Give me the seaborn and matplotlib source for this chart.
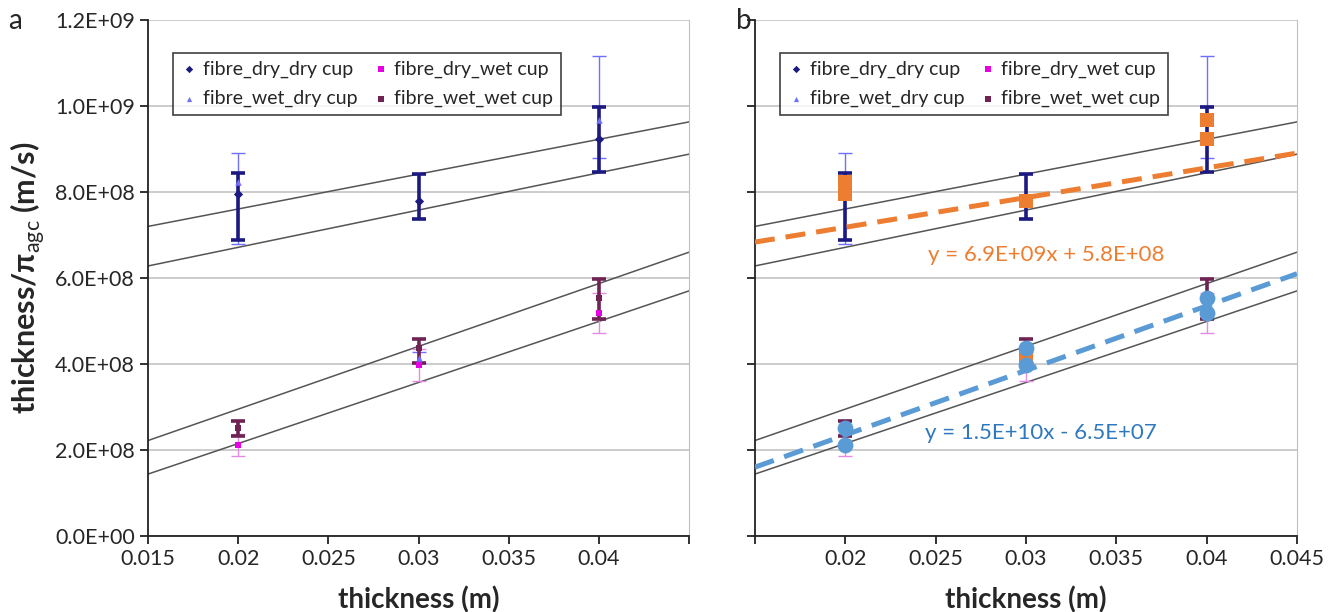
"""Permeance plot: thickness / pi_agc vs sample thickness, panels a and b."""

import matplotlib

matplotlib.use("Agg")

import matplotlib.pyplot as plt  # noqa: E402
import numpy as np  # noqa: E402
import pandas as pd  # noqa: E402
import seaborn as sns  # noqa: E402

# ---- data ----
thickness = [0.02, 0.03, 0.04]

dry_dry = [7.95e8, 7.79e8, 9.23e8]
dry_dry_lo = [6.88e8, 7.37e8, 8.47e8]
dry_dry_hi = [8.44e8, 8.42e8, 9.98e8]

wet_dry = [8.23e8, 4.15e8, 9.67e8]
wet_dry_lo = [6.79e8, 4.02e8, 8.79e8]
wet_dry_hi = [8.90e8, 4.28e8, 1.116e9]

dry_wet = [2.12e8, 3.98e8, 5.19e8]
dry_wet_lo = [1.86e8, 3.60e8, 4.72e8]
dry_wet_hi = [2.38e8, 4.36e8, 5.66e8]

wet_wet = [2.51e8, 4.37e8, 5.53e8]
wet_wet_lo = [2.33e8, 4.02e8, 5.05e8]
wet_wet_hi = [2.67e8, 4.58e8, 5.98e8]

# grey envelope lines (value at x = 0.015 and x = 0.045)
band_x = [0.015, 0.045]
band_lines = {
    "dry_upper": [7.20e8, 9.63e8],
    "dry_lower": [6.28e8, 8.88e8],
    "wet_upper": [2.22e8, 6.60e8],
    "wet_lower": [1.44e8, 5.70e8],
}

# trendlines in panel b (slope, intercept)
dry_fit = (6.9e9, 5.8e8)
wet_fit = (1.5e10, -6.5e7)

y_ticks = [0, 2e8, 4e8, 6e8, 8e8, 1.0e9, 1.2e9]
x_ticks = [0.015, 0.02, 0.025, 0.03, 0.035, 0.04, 0.045]

# ---- style ----
sns.set_style("white")
plt.rcParams["font.family"] = ["Lato", "DejaVu Sans"]
plt.rcParams["mathtext.fontset"] = "custom"
plt.rcParams["mathtext.rm"] = "Lato"

NAVY = "#1c1a80"
LIGHT_BLUE = "#7070ff"
MAGENTA = "#e600e6"
MAGENTA_ERR = "#e58ae5"
MAROON = "#6e2352"
ORANGE = "#ed7d31"
BLUE = "#5b9bd5"

series = [
    ("fibre_dry_dry cup", dry_dry, dry_dry_lo, dry_dry_hi, NAVY, NAVY, "D", 2.6),
    ("fibre_dry_wet cup", dry_wet, dry_wet_lo, dry_wet_hi, MAGENTA, MAGENTA_ERR, "s", 1.0),
    ("fibre_wet_dry cup", wet_dry, wet_dry_lo, wet_dry_hi, LIGHT_BLUE, LIGHT_BLUE, "^", 1.0),
    ("fibre_wet_wet cup", wet_wet, wet_wet_lo, wet_wet_hi, MAROON, MAROON, "s", 2.6),
]

fig = plt.figure(figsize=(13.35, 6.12), dpi=100)
ax_a = fig.add_axes([0.1109, 0.1242, 0.4052, 0.8431])
ax_b = fig.add_axes([0.5655, 0.1242, 0.4060, 0.8431])


def draw_base(ax):
    for y in y_ticks:
        ax.axhline(y, color="#bfbfbf", lw=1.1, zorder=0)

    band_df = pd.DataFrame(
        [(k, x, v) for k, vals in band_lines.items() for x, v in zip(band_x, vals)],
        columns=["line", "x", "y"],
    )
    sns.lineplot(data=band_df, x="x", y="y", units="line", estimator=None,
                 color="#555555", lw=1.1, ax=ax, zorder=2)

    # thin error bars first, thick ones over them
    for i in [2, 0, 1, 3]:
        label, vals, lo, hi, mcol, ecol, mk, lw = series[i]
        vals = np.array(vals)
        yerr = [vals - np.array(lo), np.array(hi) - vals]
        ax.errorbar(thickness, vals, yerr=yerr, fmt="none", ecolor=ecol,
                    elinewidth=lw, capsize=5, capthick=lw, zorder=3)

    # legend order (2 columns): dry_dry, wet_dry | dry_wet, wet_wet
    for i in [0, 2, 1, 3]:
        label, vals, lo, hi, mcol, ecol, mk, lw = series[i]
        sns.scatterplot(x=thickness, y=vals, marker=mk, color=mcol, s=22,
                        linewidth=0, ax=ax, label=label, zorder=4)

    ax.set_xlim(0.015, 0.045)
    ax.set_ylim(0, 1.2e9)
    ax.set_yticks(y_ticks)
    ax.set_xticks(x_ticks)
    for side in ["left", "bottom"]:
        ax.spines[side].set_color("#222222")
        ax.spines[side].set_linewidth(1.3)
    ax.spines["top"].set_visible(False)
    ax.spines["right"].set_color("#bfbfbf")
    ax.tick_params(axis="both", direction="out", length=6, width=1.3,
                   color="#222222", labelsize=15.5, left=True, bottom=True)


draw_base(ax_a)
draw_base(ax_b)

ax_a.set_yticklabels([f"{v:.1E}" for v in y_ticks])
ax_a.set_xticklabels([f"{v:g}" for v in x_ticks[:-1]] + [""])

ax_b.set_yticklabels([])
ax_b.set_xticklabels([""] + [f"{v:g}" for v in x_ticks[1:]])

# panel b: pooled points and linear trends
dry_pts = pd.DataFrame({"x": thickness * 2, "y": dry_dry + wet_dry})
wet_pts = pd.DataFrame({"x": thickness * 2, "y": dry_wet + wet_wet})

fit_x = np.array(band_x)
sns.lineplot(x=fit_x, y=dry_fit[0] * fit_x + dry_fit[1], color=ORANGE, lw=3.6,
             linestyle=(0, (4, 2.2)), ax=ax_b, zorder=5)
sns.lineplot(x=fit_x, y=wet_fit[0] * fit_x + wet_fit[1], color=BLUE, lw=3.6,
             linestyle=(0, (4, 2.2)), ax=ax_b, zorder=5)
sns.scatterplot(data=dry_pts, x="x", y="y", marker="s", color=ORANGE, s=110,
                linewidth=0, ax=ax_b, zorder=6)
sns.scatterplot(data=wet_pts, x="x", y="y", marker="o", color=BLUE, s=130,
                linewidth=0, ax=ax_b, zorder=6)

ax_b.text(0.0311, 6.53e8, "y = 6.9E+09x + 5.8E+08", color=ORANGE, fontsize=16,
          ha="center", va="center", zorder=7)
ax_b.text(0.0308, 2.40e8, "y = 1.5E+10x - 6.5E+07", color="#2e78bd", fontsize=16,
          ha="center", va="center", zorder=7)

ax_a.set_ylabel(r"thickness/π$_{\mathrm{agc}}$ (m/s)", fontsize=22,
                fontweight="bold", labelpad=6)
ax_b.set_ylabel("")

for ax in (ax_a, ax_b):
    ax.set_xlabel("thickness (m)", fontsize=20, fontweight="bold", labelpad=12)
    handles, labels = ax.get_legend_handles_labels()
    keep = [(h, l) for h, l in zip(handles, labels) if l.startswith("fibre")]
    leg = ax.legend([h for h, _ in keep], [l for _, l in keep], loc="upper left",
                    bbox_to_anchor=(0.047, 0.937), ncol=2, fontsize=14,
                    frameon=True, fancybox=False, borderaxespad=0,
                    handletextpad=0.3, columnspacing=0.8, labelspacing=0.62,
                    handlelength=0.8, borderpad=0.4, markerscale=0.8)
    leg.get_frame().set_edgecolor("#111111")
    leg.get_frame().set_linewidth(1.2)
    leg.set_zorder(10)

fig.text(0.006, 0.965, "a", fontsize=20, va="center")
fig.text(0.551, 0.965, "b", fontsize=20, va="center")

fig.savefig("out.png", dpi=100)
plt.close(fig)
